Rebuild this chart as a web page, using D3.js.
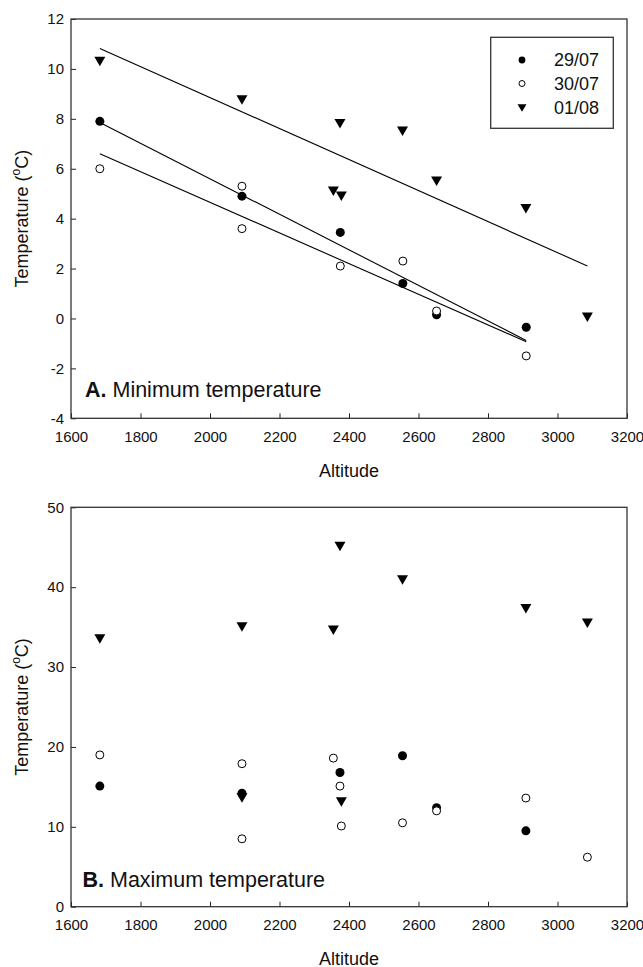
<!DOCTYPE html>
<html>
<head>
<meta charset="utf-8">
<script src="https://cdn.jsdelivr.net/npm/d3@7/dist/d3.min.js"></script>
<style>
  html, body { margin: 0; padding: 0; background: #fff; }
  svg { display: block; font-family: "Liberation Sans", Arial, sans-serif; }
</style>
</head>
<body>
<svg id="chart" width="643" height="967"></svg>
<script>
// ---- Data -------------------------------------------------------------
const seriesNames = ["29/07", "30/07", "01/08"];
const xTickValues = [1600, 1800, 2000, 2200, 2400, 2600, 2800, 3000, 3200];
const yTicksMin = [-4, -2, 0, 2, 4, 6, 8, 10, 12];
const yTicksMax = [0, 10, 20, 30, 40, 50];

// A. Minimum temperature
const minAlt2907 = [1683, 2092, 2375, 2555, 2652, 2910];
const minTemp2907 = [7.9, 4.9, 3.45, 1.4, 0.15, -0.35];
const minAlt3007 = [1683, 2092, 2092, 2375, 2555, 2652, 2910];
const minTemp3007 = [6.0, 5.3, 3.6, 2.1, 2.3, 0.3, -1.5];
const minAlt0108 = [1683, 2092, 2355, 2374, 2378, 2554, 2652, 2909, 3086];
const minTemp0108 = [10.3, 8.75, 5.1, 7.8, 4.9, 7.5, 5.5, 4.4, 0.05];

// B. Maximum temperature
const maxAlt2907 = [1683, 2092, 2374, 2554, 2652, 2909];
const maxTemp2907 = [15.1, 14.2, 16.8, 18.9, 12.4, 9.5];
const maxAlt3007 = [1683, 2092, 2092, 2355, 2374, 2378, 2554, 2652, 2909, 3086];
const maxTemp3007 = [19.0, 17.9, 8.5, 18.6, 15.1, 10.1, 10.5, 12.0, 13.6, 6.2];
const maxAlt0108 = [1683, 2092, 2092, 2355, 2374, 2378, 2554, 2909, 3086];
const maxTemp0108 = [33.5, 35.0, 13.6, 34.6, 45.1, 13.1, 40.9, 37.3, 35.5];

// ---- Helpers ----------------------------------------------------------
const zip = (xs, ys) => xs.map((x, i) => ({ x, y: ys[i] }));

function linearFit(pts) {
  const mx = d3.mean(pts, d => d.x), my = d3.mean(pts, d => d.y);
  const sxy = d3.sum(pts, d => (d.x - mx) * (d.y - my));
  const sxx = d3.sum(pts, d => (d.x - mx) ** 2);
  const b = sxy / sxx, a = my - b * mx;
  const [x0, x1] = d3.extent(pts, d => d.x);
  return [{ x: x0, y: a + b * x0 }, { x: x1, y: a + b * x1 }];
}

function triPath(w, h) {
  return `M${-w / 2},${-h / 2}L${w / 2},${-h / 2}L0,${h / 2}Z`;
}

function drawMarker(sel, kind, big) {
  if (kind === 0) {
    sel.append("circle").attr("r", big ? 4.5 : 3.4).attr("fill", "#000");
  } else if (kind === 1) {
    sel.append("circle").attr("r", big ? 4.0 : 3.0)
      .attr("fill", "#fff").attr("stroke", "#000").attr("stroke-width", 1);
  } else {
    sel.append("path").attr("d", big ? triPath(11, 9.5) : triPath(9, 7.5)).attr("fill", "#000");
  }
}

const plain = d => String(d);   // hyphen-minus labels
const svg = d3.select("#chart");
const left = 71, right = 627;
const x = d3.scaleLinear().domain([1600, 3200]).range([left, right]);

function drawPanel(cfg) {
  const y = d3.scaleLinear().domain(cfg.yDomain).range([cfg.bottom, cfg.top]);
  const g = svg.append("g");

  // axes with inward ticks
  const xAxis = d3.axisBottom(x).tickValues(xTickValues).tickFormat(plain)
    .tickSizeInner(-5).tickSizeOuter(0).tickPadding(12.8);
  const gx = g.append("g").attr("transform", `translate(0,${cfg.bottom})`).call(xAxis);
  const yAxis = d3.axisLeft(y).tickValues(cfg.yTicks).tickFormat(plain)
    .tickSizeInner(-5).tickSizeOuter(0).tickPadding(7);
  const gy = g.append("g").attr("transform", `translate(${left},0)`).call(yAxis);
  [gx, gy].forEach(a => {
    a.select(".domain").remove();
    a.selectAll(".tick line").attr("stroke", "#222");
    a.selectAll(".tick text").attr("font-size", 15).attr("fill", "#111")
      .attr("font-family", "Liberation Sans, Arial, sans-serif");
  });

  // frame
  g.append("rect").attr("x", left).attr("y", cfg.top)
    .attr("width", right - left).attr("height", cfg.bottom - cfg.top)
    .attr("fill", "none").attr("stroke", "#333").attr("stroke-width", 1.3);

  // axis titles
  g.append("text").attr("x", (left + right) / 2).attr("y", cfg.xTitleY)
    .attr("text-anchor", "middle").attr("font-size", 18).attr("fill", "#111").text("Altitude");
  const yt = g.append("text")
    .attr("transform", `translate(28,${(cfg.top + cfg.bottom) / 2}) rotate(-90)`)
    .attr("text-anchor", "middle").attr("font-size", 18).attr("fill", "#111");
  yt.append("tspan").text("Temperature (");
  yt.append("tspan").attr("font-size", 12).attr("dy", -8).text("o");
  yt.append("tspan").attr("dy", 8).text("C)");

  // panel label
  const pl = g.append("text").attr("x", cfg.labelX).attr("y", cfg.labelY)
    .attr("font-size", 21.5).attr("fill", "#111");
  pl.append("tspan").attr("font-weight", "bold").text(cfg.letter);
  pl.append("tspan").text(" " + cfg.title);

  // regression lines
  const line = d3.line().x(d => x(d.x)).y(d => y(d.y));
  if (cfg.fit) {
    cfg.series.forEach(s => {
      g.append("path").attr("d", line(linearFit(s)))
        .attr("fill", "none").attr("stroke", "#000").attr("stroke-width", 1.1);
    });
  }

  // markers
  cfg.series.forEach((s, k) => {
    g.append("g").selectAll("g").data(s).join("g")
      .attr("transform", d => `translate(${x(d.x)},${y(d.y)})`)
      .each(function () { drawMarker(d3.select(this), k, true); });
  });

  // legend
  if (cfg.legend) {
    const lg = g.append("g");
    lg.append("rect").attr("x", 490.7).attr("y", 37.3).attr("width", 122.6).attr("height", 91)
      .attr("fill", "#fff").attr("stroke", "#333").attr("stroke-width", 1.3);
    const rowY = [60, 83.5, 108];
    seriesNames.forEach((name, k) => {
      const row = lg.append("g");
      drawMarker(row.append("g").attr("transform", `translate(522,${rowY[k]})`), k, false);
      row.append("text").attr("x", 554).attr("y", rowY[k] + 6.3)
        .attr("font-size", 18).attr("fill", "#111").text(name);
    });
  }
}

drawPanel({
  top: 19, bottom: 418.3, yDomain: [-4, 12], yTicks: yTicksMin,
  xTitleY: 477, letter: "A.", title: "Minimum temperature", labelX: 85, labelY: 396.7,
  fit: true, legend: true,
  series: [zip(minAlt2907, minTemp2907), zip(minAlt3007, minTemp3007), zip(minAlt0108, minTemp0108)]
});

drawPanel({
  top: 507.3, bottom: 906.7, yDomain: [0, 50], yTicks: yTicksMax,
  xTitleY: 964.5, letter: "B.", title: "Maximum temperature", labelX: 82.5, labelY: 886.7,
  fit: false, legend: false,
  series: [zip(maxAlt2907, maxTemp2907), zip(maxAlt3007, maxTemp3007), zip(maxAlt0108, maxTemp0108)]
});
</script>
</body>
</html>
